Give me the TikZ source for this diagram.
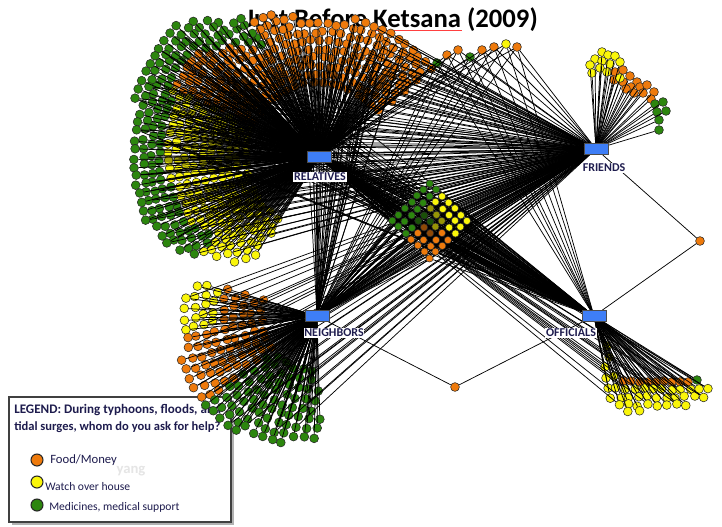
\documentclass[tikz,border=0pt]{standalone}
\usepackage{fontspec}
\setmainfont{Carlito}
\definecolor{ora}{RGB}{238,122,12}
\definecolor{yel}{RGB}{250,246,10}
\definecolor{grn}{RGB}{44,134,14}
\definecolor{hubblue}{RGB}{62,126,246}
\definecolor{navy}{RGB}{30,28,78}
\pgfdeclarelayer{back}
\pgfdeclarelayer{front}
\pgfsetlayers{back,main,front}
% links are collected while the alters are placed, and drawn afterwards on top of them
\def\edgelist{}
\protected\def\lnk#1#2{\draw[link] (#1) -- (#2);}
\newcommand\addlink[2]{\xdef\edgelist{\unexpanded\expandafter{\edgelist}\noexpand\lnk{#1}{#2}}}
\begin{document}
\begin{tikzpicture}[x=0.75pt,y=-0.75pt,
  alter/.style={circle,draw=black!85,line width=0.4pt,inner sep=0pt,minimum size=6.6pt},
  small alter/.style={alter,minimum size=5.5pt},
  link/.style={line width=0.55pt,draw=black},
  hub/.style={rectangle,draw=black!70,line width=0.5pt,fill=hubblue,
              minimum width=18pt,minimum height=8.4pt,inner sep=0pt},
  hublabel/.style={font=\fontsize{9}{10}\selectfont\bfseries,text=navy,inner sep=0.6pt,fill=white},
  keydot/.style={circle,draw=black!85,line width=0.8pt,inner sep=0pt,minimum size=9pt},
  keytext/.style={anchor=west,inner sep=0pt,text=navy},
]
\pgfmathsetseed{4711}
\useasboundingbox (0,0) rectangle (722,526);

% ---------- backdrop: title and legend ----------
\begin{pgfonlayer}{back}
  \fill[white] (0,0) rectangle (722,526);
  \node[anchor=base west,inner sep=0pt,font=\fontsize{20}{24}\selectfont\bfseries]
    (title) at (245,27) {Just Before Ketsana (2009)};
  \draw[red!75,line width=0.6pt] (375,30.5) -- (462,30.5);
  \fill[black!30] (11.5,399.5) rectangle (233.5,524.5);
  \draw[fill=white,draw=black!75,line width=1.2pt] (9,397) rectangle (231,522);
  \node[anchor=base west,inner sep=0pt,text=navy,font=\fontsize{9.8}{11}\selectfont\bfseries]
    (leg1) at (14,413) {LEGEND: During typhoons, floods, and};
  \node[anchor=base west,inner sep=0pt,text=navy,font=\fontsize{9.4}{11}\selectfont\bfseries]
    (leg2) at (14,430) {tidal surges, whom do you ask for help?};
  \node[keydot,fill=ora] (k1) at (37,460) {};
  \node[keydot,fill=yel] (k2) at (37,482) {};
  \node[keydot,fill=grn] (k3) at (37,505) {};
  \node[keytext,font=\fontsize{9.5}{11}\selectfont] (t1) at (50,460) {Food/Money};
  \node[keytext,font=\fontsize{8.7}{10}\selectfont] (t2) at (45,487) {Watch over house};
  \node[keytext,font=\fontsize{8.7}{10}\selectfont] (t3) at (49,507) {Medicines, medical support};
  \node[text=black!10,font=\fontsize{11}{12}\selectfont\bfseries] (wm) at (131,471) {yang};
\end{pgfonlayer}

% ---------- the four hubs ----------
\begin{pgfonlayer}{front}
  \node[hub] (REL) at (319,157) {};
  \node[hub] (FRI) at (596,149) {};
  \node[hub] (NEI) at (317,316) {};
  \node[hub] (OFF) at (594,316) {};
  \node[hublabel] (RELt) at (320,177) {RELATIVES};
  \node[hublabel] (FRIt) at (604,168) {FRIENDS};
  \node[hublabel] (NEIt) at (334,333) {NEIGHBORS};
  \node[hublabel] (OFFt) at (571,333) {OFFICIALS};
\end{pgfonlayer}

% ---------- relatives: large fan around the hub ----------
\foreach \k in {0,...,18}{
  \pgfmathsetmacro\rr{74+8.5*\k}
  \pgfmathsetmacro\st{520/\rr}
  \pgfmathtruncatemacro\nmax{200/\st}
  \foreach \j in {0,...,\nmax}{
    \pgfmathsetmacro\th{38+(\j+0.5*mod(\k,2))*\st}
    \pgfmathsetmacro\R{\th<60 ? 150 : (\th<90 ? 150-(\th-60)/2 : (\th<120 ? 135+(\th-90)*5/6 : (\th<140 ? 160+(\th-120)*2 : (\th<180 ? 200-(\th-140)*0.3 : (\th<200 ? 188-(\th-180)*0.15 : (\th<212 ? 185-(\th-200)*10/12 : (\th<222 ? 175-(\th-212)*2.5 : 150-(\th-222)*1.6)))))))}
    \pgfmathtruncatemacro\ok{((\rr<=\R) && (\th<=238)) ? 1 : 0}
    \ifnum\ok=1
      \pgfmathtruncatemacro\col{(\th>=116 && \th<=218 && \rr>\R-36) ? 3 : (\th>=155 ? 2 : 1)}
      \ifcase\col\or\def\fc{ora}\or\def\fc{yel}\or\def\fc{grn}\fi
      \pgfmathsetmacro\px{319+\rr*cos(\th)+1.5*rand}
      \pgfmathsetmacro\py{157-\rr*sin(\th)+1.5*rand}
      \node[alter,fill=\fc] (r\k-\j) at (\px,\py) {};
      \pgfmathtruncatemacro\ef{((\th<68 && mod(\j,2)==0) || (\th>150 && mod(\j+\k,5)==0)) ? 1 : 0}
      \pgfmathtruncatemacro\en{(\th>=48 && \th<=100 && mod(\j+\k,3)==0) ? 1 : 0}
      \pgfmathtruncatemacro\eo{(\th>=120 && \th<=175 && mod(\j+\k,6)==0) ? 1 : 0}
      \addlink{REL}{r\k-\j}
      \ifnum\ef=1 \addlink{FRI}{r\k-\j}\fi
      \ifnum\en=1 \addlink{NEI}{r\k-\j}\fi
      \ifnum\eo=1 \addlink{OFF}{r\k-\j}\fi
    \fi
  }
}

% ---------- neighbors: fan to the left ----------
\foreach \k in {0,...,9}{
  \pgfmathsetmacro\rr{56+9.5*\k}
  \pgfmathsetmacro\st{570/\rr}
  \pgfmathtruncatemacro\nmax{110/\st}
  \foreach \j in {0,...,\nmax}{
    \pgfmathsetmacro\th{164+(\j+0.5*mod(\k,2))*\st}
    \pgfmathsetmacro\R{\th<190 ? 128+(\th-164)*0.38 : (\th<218 ? 138+(\th-190)*0.3 : (\th<235 ? 146-(\th-218)*0.35 : 140-(\th-235)*0.5))}
    \pgfmathtruncatemacro\ok{((\rr<=\R+2) && (\th<=272)) ? 1 : 0}
    \ifnum\ok=1
      \pgfmathtruncatemacro\col{(\th<186 && \rr>100) ? 2 : (\th<218 ? 1 : 3)}
      \ifcase\col\or\def\fc{ora}\or\def\fc{yel}\or\def\fc{grn}\fi
      \pgfmathsetmacro\px{317+\rr*cos(\th)+1.5*rand}
      \pgfmathsetmacro\py{316-\rr*sin(\th)+1.5*rand}
      \node[alter,fill=\fc] (n\k-\j) at (\px,\py) {};
      \addlink{NEI}{n\k-\j}
      \pgfmathtruncatemacro\ef{mod(\j+\k,5)==0 ? 1 : 0}
      \ifnum\ef=1 \addlink{FRI}{n\k-\j}\fi
    \fi
  }
}

% ---------- friends: fan above the hub ----------
\foreach \px/\py/\fc [count=\n] in {602/52/yel,595/59/yel,608/55/yel,615/56/yel,590/65/yel,
  602/61/yel,610/64/yel,620/62/yel,592/73/yel,600/68/yel,607/72/yel,
  615/72/ora,623/70/ora,614/80/ora,630/76/ora,623/82/ora,637/82/ora,631/87/ora,640/87/ora,
  647/85/ora,626/89/ora,634/93/ora,643/93/ora,654/92/ora,651/99/ora,620/78/yel,
  655/104/grn,663/102/grn,657/112/grn,666/111/grn,659/120/grn,659/130/grn}{
  \node[alter,fill=\fc] (f\n) at (\px,\py) {};
  \addlink{FRI}{f\n}
}

% ---------- officials: fan below the hub ----------
\foreach \px/\py/\fc [count=\n] in {607/346/yel,609/357/yel,605/367/yel,606/378/yel,614/376/yel,
  623/381/ora,631/381/ora,640/382/ora,648/382/ora,656/382/ora,664/381/ora,672/382/ora,
  680/382/ora,688/382/ora,697/380/grn}{
  \node[alter,fill=\fc] (oa\n) at (\px,\py) {};
  \addlink{OFF}{oa\n}
  \ifodd\n \addlink{REL}{oa\n}\fi
}
\foreach \yy/\xa/\cnt/\dx [count=\q] in {389/607/11/9.2,397/611/10/9.2,405/619/7/9.5,411/629/1/10}{
  \foreach \i in {0,...,\cnt}{
    \pgfmathsetmacro\px{\xa+\i*\dx+1.2*rand}
    \pgfmathsetmacro\py{\yy+1.2*rand}
    \node[alter,fill=yel] (ob\q-\i) at (\px,\py) {};
    \addlink{OFF}{ob\q-\i}
    \pgfmathtruncatemacro\er{mod(\i+\q,3)==0 ? 1 : 0}
    \ifnum\er=1 \addlink{REL}{ob\q-\i}\fi
  }
}

% ---------- shared alters in the middle: a diamond tied to all four hubs ----------
\begin{pgfonlayer}{front}
\foreach \i in {-3,...,3}{
  \foreach \j in {-3,...,3}{
    % i runs towards the lower right, j towards the upper right
    \pgfmathsetmacro\px{430+6.2*\i+6.2*\j+0.8*rand}
    \pgfmathsetmacro\py{221+6.2*\i-6.2*\j+0.8*rand}
    \pgfmathtruncatemacro\col{(\i<=-2 || (\i==-1 && \j<=-1)) ? 3 : (\j>=1 ? 2 : (\j<=-1 ? 1 : (\i<=0 ? 3 : (\i>=2 ? 1 : 2))))}
    \ifcase\col\or\def\fc{ora}\or\def\fc{yel}\or\def\fc{grn}\fi
    \pgfmathtruncatemacro\dk{(abs(\i)<=1 && abs(\j)<=1) ? 60 : 100}
    \node[small alter,fill=\fc!\dk!black] (m\i-\j) at (\px,\py) {};
    \addlink{REL}{m\i-\j}\addlink{FRI}{m\i-\j}\addlink{NEI}{m\i-\j}\addlink{OFF}{m\i-\j}
  }
}
\end{pgfonlayer}

% ---------- shared alters at the top right of the relatives fan ----------
\foreach \px/\py/\fc [count=\n] in {437/63/grn,447/55/ora,458/50/ora,470/57/grn,
  482/50/ora,494/47/ora,506/44/yel,517/47/ora}{
  \node[alter,fill=\fc] (s\n) at (\px,\py) {};
  \addlink{REL}{s\n}\addlink{FRI}{s\n}\addlink{NEI}{s\n}\addlink{OFF}{s\n}
}

% ---------- single alters between pairs of hubs ----------
\node[alter,fill=ora] (x1) at (700,241) {};
\node[alter,fill=ora] (x2) at (455,387) {};
\addlink{FRI}{x1}\addlink{OFF}{x1}\addlink{NEI}{x2}\addlink{OFF}{x2}

% ---------- all links, over the alters ----------
\edgelist
\end{tikzpicture}
\end{document}
